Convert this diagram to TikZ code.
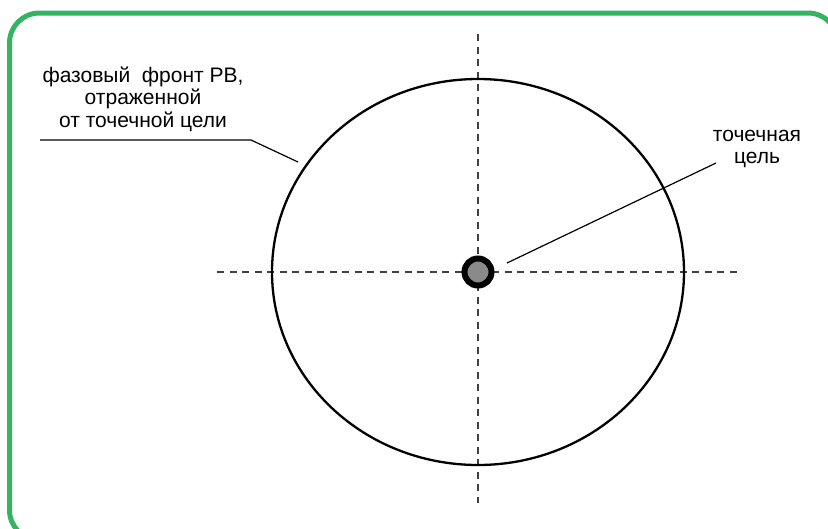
\documentclass[tikz,border=0pt]{standalone}
\usepackage{fontspec}
\setmainfont{Liberation Sans}
\usepackage{tikz}
\usetikzlibrary{positioning}
\definecolor{framegreen}{RGB}{52,180,96}
\definecolor{dotgray}{RGB}{138,138,138}

\begin{document}
\begin{tikzpicture}[x=1pt, y=-1pt,
    axis/.style={dash pattern=on 7pt off 5.5pt, line width=1.3pt, black!75},
    leader/.style={line width=1.2pt},
    lbl/.style={align=center, inner sep=0pt, font=\fontsize{21}{22.5}\selectfont}]
    \useasboundingbox (0,0) rectangle (828,528);
    \draw[framegreen, line width=5pt, rounded corners=30pt] (9.5,13) rectangle (838,540);

    \coordinate (c) at (478,272);
    \coordinate (axl) at (217,272);
    \coordinate (axr) at (739,272);
    \coordinate (axt) at (478,34);
    \coordinate (axb) at (478,503);
    \draw[axis] (axl) -- (axr);
    \draw[axis] (axt) -- (axb);

    \draw[line width=2.3pt] (c) ellipse [x radius=206, y radius=193];
    \node[circle, draw, line width=6pt, fill=dotgray, minimum size=27pt, inner sep=0pt] (t) at (c) {};

    \node[lbl] (front) at (143,99) {фазовый~~фронт РВ,\\отраженной\\от точечной цели};
    \node[lbl] (point) at (757,149) {точечная\\цель};

    \coordinate (f1) at (40,140);
    \coordinate (f2) at (251,140);
    \coordinate (f3) at (298,162);
    \draw[leader] (f1) -- (f2) -- (f3);
    \coordinate (p1) at (716,163);
    \coordinate (p2) at (507,263);
    \draw[leader] (p1) -- (p2);
\end{tikzpicture}
\end{document}
